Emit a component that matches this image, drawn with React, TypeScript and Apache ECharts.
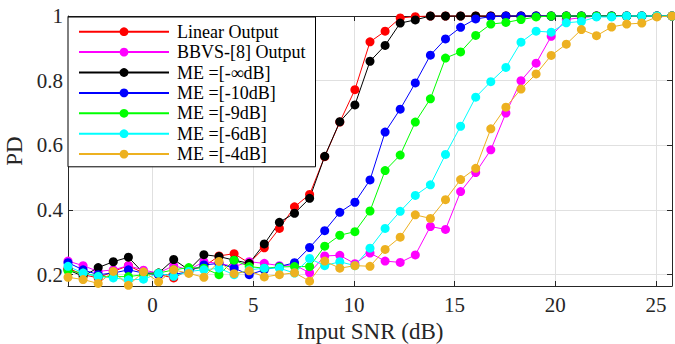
import React, { useEffect, useRef } from "react";
import * as echarts from "echarts";

const xs = [-4.2, -3.45, -2.7, -1.95, -1.2, -0.45, 0.3, 1.05, 1.8, 2.55, 3.3, 4.05, 4.8, 5.55, 6.3, 7.05, 7.8, 8.55, 9.3, 10.05, 10.8, 11.55, 12.3, 13.05, 13.8, 14.55, 15.3, 16.05, 16.8, 17.55, 18.3, 19.05, 19.8, 20.55, 21.3, 22.05, 22.8, 23.55, 24.3, 25.05, 25.8];

const linearOut = [0.22, 0.2, 0.19, 0.21, 0.228, 0.205, 0.2, 0.19, 0.215, 0.225, 0.258, 0.265, 0.236, 0.283, 0.343, 0.41, 0.448, 0.565, 0.672, 0.772, 0.92, 0.953, 0.994, 0.998, 1, 1, 1, 1, 1, 1, 1, 1, 1, 1, 1, 1, 1, 1, 1, 1, 1];
const bbvsOut = [0.242, 0.228, 0.21, 0.215, 0.228, 0.214, 0.205, 0.228, 0.215, 0.24, 0.235, 0.225, 0.24, 0.235, 0.228, 0.23, 0.206, 0.258, 0.26, 0.234, 0.267, 0.242, 0.238, 0.261, 0.349, 0.34, 0.457, 0.516, 0.586, 0.7, 0.8, 0.854, 0.937, 0.989, 0.995, 1, 1, 1, 1, 1, 1];
const meInf = [0.215, 0.195, 0.222, 0.24, 0.254, 0.205, 0.205, 0.247, 0.215, 0.262, 0.256, 0.245, 0.235, 0.295, 0.362, 0.39, 0.436, 0.566, 0.673, 0.725, 0.86, 0.909, 0.978, 0.988, 1, 1, 1, 1, 1, 1, 1, 1, 1, 1, 1, 1, 1, 1, 1, 1, 1];
const me10 = [0.237, 0.215, 0.2, 0.205, 0.215, 0.205, 0.2, 0.2, 0.21, 0.23, 0.235, 0.22, 0.2, 0.215, 0.225, 0.237, 0.284, 0.336, 0.393, 0.424, 0.493, 0.641, 0.712, 0.793, 0.879, 0.929, 0.965, 0.991, 0.998, 1, 1, 1, 1, 1, 1, 1, 1, 1, 1, 1, 1];
const me9 = [0.212, 0.205, 0.195, 0.194, 0.194, 0.2, 0.205, 0.215, 0.222, 0.22, 0.2, 0.245, 0.225, 0.22, 0.224, 0.225, 0.225, 0.288, 0.322, 0.333, 0.397, 0.522, 0.57, 0.672, 0.744, 0.87, 0.889, 0.94, 0.975, 0.98, 0.989, 0.997, 1, 1, 1, 1, 1, 1, 1, 1, 1];
const me6 = [0.226, 0.205, 0.194, 0.19, 0.184, 0.186, 0.204, 0.195, 0.21, 0.215, 0.22, 0.2, 0.215, 0.22, 0.22, 0.205, 0.25, 0.228, 0.24, 0.228, 0.282, 0.343, 0.396, 0.445, 0.478, 0.572, 0.659, 0.749, 0.797, 0.841, 0.919, 0.953, 0.95, 0.979, 0.983, 0.997, 0.997, 1, 1, 1, 1];
const me4 = [0.192, 0.185, 0.173, 0.21, 0.167, 0.209, 0.178, 0.215, 0.204, 0.192, 0.241, 0.203, 0.212, 0.193, 0.2, 0.206, 0.18, 0.242, 0.22, 0.228, 0.226, 0.278, 0.316, 0.385, 0.374, 0.432, 0.494, 0.529, 0.651, 0.718, 0.774, 0.821, 0.878, 0.913, 0.958, 0.939, 0.966, 0.975, 0.978, 0.997, 1];

const seriesNames = ["Linear Output", "BBVS-[8] Output", "ME =[-∞dB]", "ME =[-10dB]", "ME =[-9dB]", "ME =[-6dB]", "ME =[-4dB]"];
const seriesValues = [linearOut, bbvsOut, meInf, me10, me9, me6, me4];
const seriesColors = ["#ff0000", "#ff00ff", "#000000", "#0000ff", "#00ff00", "#00ffff", "#edb120"];

const xTicks = [0, 5, 10, 15, 20, 25];
const yTicks = [0.2, 0.4, 0.6, 0.8, 1];

const FONT = "Liberation Serif";
const AXIS_COLOR = "#262626";

export default function App() {
  const ref = useRef<HTMLDivElement>(null);
  useEffect(() => {
    if (!ref.current) return;
    const chart = echarts.init(ref.current, null, { renderer: "svg" });
    const xBase = {
      type: "value",
      min: -4.2,
      max: 25.8,
      axisLine: { show: true, onZero: false, lineStyle: { color: AXIS_COLOR, width: 1 } },
      axisTick: { show: true, inside: true, length: 5, customValues: xTicks, lineStyle: { color: AXIS_COLOR } },
    };
    const yBase = {
      type: "value",
      min: 0.165,
      max: 1,
      axisLine: { show: true, onZero: false, lineStyle: { color: AXIS_COLOR, width: 1 } },
      axisTick: { show: true, inside: true, length: 5, customValues: yTicks, lineStyle: { color: AXIS_COLOR } },
    };
    chart.setOption({
      animation: false,
      backgroundColor: "#ffffff",
      grid: { left: 68, right: 3, top: 16, bottom: 58, containLabel: false, outerBoundsMode: "none" },
      xAxis: [
        {
          ...xBase,
          position: "bottom",
          axisLabel: { customValues: xTicks, fontFamily: FONT, fontSize: 21, color: AXIS_COLOR, margin: 8 },
          splitLine: { show: true, lineStyle: { color: "#e0e0e0", width: 1 } },
          name: "Input SNR (dB)",
          nameLocation: "middle",
          nameGap: 30,
          nameTextStyle: { fontFamily: FONT, fontSize: 23, color: AXIS_COLOR },
        },
        {
          ...xBase,
          position: "top",
          axisLabel: { show: false },
          splitLine: { show: false },
        },
      ],
      yAxis: [
        {
          ...yBase,
          position: "left",
          axisLabel: { customValues: yTicks, fontFamily: FONT, fontSize: 21, color: AXIS_COLOR, margin: 5, formatter: (v: number) => String(v) },
          splitLine: { show: true, lineStyle: { color: "#e0e0e0", width: 1 } },
          name: "PD",
          nameLocation: "middle",
          nameGap: 35,
          nameRotate: 90,
          nameTextStyle: { fontFamily: FONT, fontSize: 23, color: AXIS_COLOR },
        },
        {
          ...yBase,
          position: "right",
          axisLabel: { show: false },
          splitLine: { show: false },
        },
      ],
      legend: {
        data: seriesNames,
        orient: "vertical",
        left: 68,
        top: 17,
        itemWidth: 90,
        itemHeight: 11,
        itemGap: 2.4,
        padding: [5.7, 10, 3.7, 10],
        borderColor: "#000000",
        borderWidth: 1,
        backgroundColor: "#ffffff",
        borderRadius: 0,
        textStyle: { fontFamily: FONT, fontSize: 18, color: "#000000", padding: [0, 0, 0, 3] },
        z: 10,
      },
      series: seriesNames.map((name, k) => ({
        name,
        type: "line",
        xAxisIndex: 0,
        yAxisIndex: 0,
        data: xs.map((x, i) => [x, seriesValues[k][i]]),
        symbol: "circle",
        symbolSize: 9,
        showSymbol: true,
        color: seriesColors[k],
        lineStyle: { color: seriesColors[k], width: 1 },
        itemStyle: { color: seriesColors[k] },
        clip: false,
      })),
    });
    return () => chart.dispose();
  }, []);
  return (
    <div
      ref={ref}
      style={{ position: "fixed", left: 0, top: 0, width: 675, height: 344, background: "#fff" }}
    />
  );
}
